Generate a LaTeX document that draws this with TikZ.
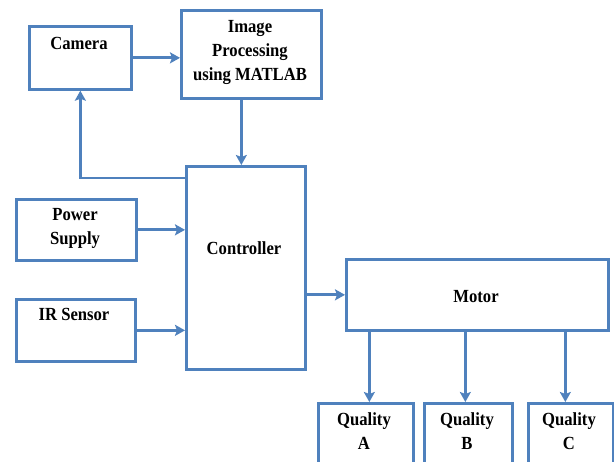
\documentclass[tikz,border=0pt]{standalone}
\usepackage{fontspec}
\setmainfont{Liberation Serif}[FakeStretch=0.9]
\usetikzlibrary{arrows.meta,calc}
\definecolor{lineblue}{HTML}{4F81BD}
\tikzset{
  box/.style={draw=lineblue, line width=2.7pt, fill=white, inner sep=0pt, anchor=north west},
  lbl/.style={font=\bfseries\fontsize{18.5}{24}\selectfont, align=center, inner sep=0pt, text=black},
  conn/.style={draw=lineblue, line width=2.8pt, -{Stealth[length=10pt,width=11pt,inset=2pt]}},
  plain/.style={draw=lineblue, line width=2.8pt}
}
\begin{document}
\begin{tikzpicture}[x=1pt,y=-1pt]
\useasboundingbox (0,0) rectangle (614,462);
\clip (0,0) rectangle (614,462);
\fill[white] (0,0) rectangle (614,462);
% boxes
\node[box, minimum width=102pt, minimum height=63pt] (cam) at (28,25) {};
\node[box, minimum width=140pt, minimum height=88pt] (ip) at (180,9) {};
\node[box, minimum width=119pt, minimum height=203pt] (ctrl) at (185,165) {};
\node[box, minimum width=120pt, minimum height=61pt] (ps) at (15,198) {};
\node[box, minimum width=119pt, minimum height=62pt] (ir) at (15,298) {};
\node[box, minimum width=262pt, minimum height=71pt] (motor) at (345,258) {};
\node[box, minimum width=95pt, minimum height=80pt] (qa) at (317,402) {};
\node[box, minimum width=88pt, minimum height=80pt] (qb) at (423,402) {};
\node[box, minimum width=85pt, minimum height=80pt] (qc) at (527,402) {};
% labels
\node[lbl] (tcam) at (79,43) {Camera};
\node[lbl] (tip) at (250,52) {Image\\Processing\\using MATLAB};
\node[lbl] (tctrl) at (244,248) {Controller};
\node[lbl] (tps) at (75,228) {Power\\Supply};
\node[lbl] (tir) at (74,314) {IR Sensor};
\node[lbl] (tmotor) at (476,297) {Motor};
\node[lbl] (tqa) at (364,431) {Quality\\A};
\node[lbl] (tqb) at (467,431) {Quality\\B};
\node[lbl] (tqc) at (569,431) {Quality\\C};
% connectors
\draw[conn] (cam.east) -- (ip.west |- cam.east);
\draw[conn] ([xshift=-10pt]ip.south) -- ([xshift=-4.5pt]ctrl.north);
\draw[conn] ([yshift=-13pt]ctrl.north west) -| (cam.south);
\draw[conn] (ps.east) -- (ctrl.west |- ps.east);
\draw[conn] (ir.east) -- (ctrl.west |- ir.east);
\draw[conn] (ctrl.east |- motor.west) -- (motor.west);
\draw[conn] ([xshift=3.5pt]qa.north |- motor.south) -- ([xshift=3.5pt]qa.north);
\draw[conn] ([xshift=-3pt]qb.north |- motor.south) -- ([xshift=-3pt]qb.north);
\draw[conn] ([xshift=-5.5pt]qc.north |- motor.south) -- ([xshift=-5.5pt]qc.north);
\end{tikzpicture}
\end{document}
